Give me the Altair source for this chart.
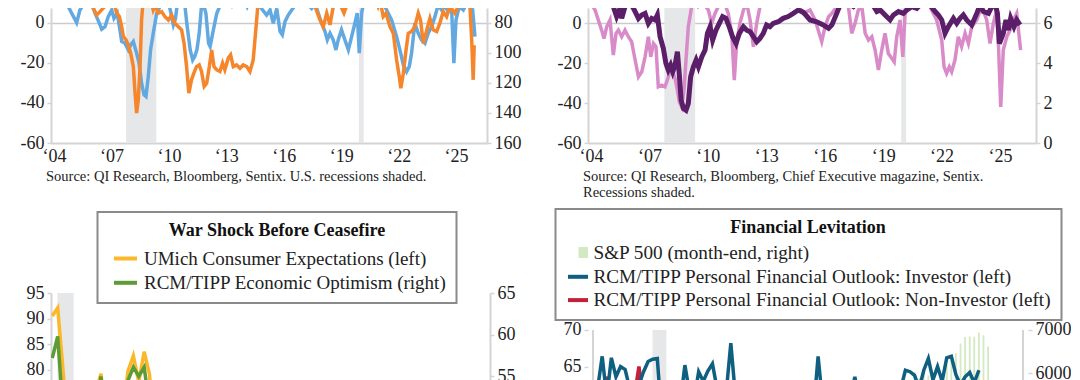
import altair as alt
import pandas as pd

FONT = "Liberation Serif"
AX = "#d4d4d4"
SHADE = "#e6e7e9"
TXT = "#222222"

# ---------------- data ----------------
recession_start = [2007.92, 2020.08]
recession_end = [2009.50, 2020.33]
tick_years = [2004, 2007, 2010, 2013, 2016, 2019, 2022, 2025]

# top-left: blue (left axis) and orange (right axis, inverted)
tl_blue = [
    (2004.60, 14), (2004.82, 9.6), (2005.08, 4.7), (2005.34, 0.0), (2005.51, 6.3), (2005.78, 10.5), (2006.00, 13), (2006.30, 4.7), (2006.56, -1.1), (2006.65, -3.3),
    (2006.82, -2.0), (2006.99, 3.0), (2007.17, 6.3), (2007.29, 2.2), (2007.46, 4.7), (2007.60, -3.6), (2007.69, -9.4), (2007.86, -10.3), (2008.04, -13.6), (2008.16, -11.1),
    (2008.30, -9.4), (2008.47, -15.2), (2008.60, -20.2), (2008.73, -30.2), (2008.86, -36.0), (2008.96, -36.8), (2009.08, -26.9), (2009.20, -13.6), (2009.34, -5.3), (2009.52, 4.7),
    (2009.69, 8.0), (2009.87, 13), (2010.10, 12), (2010.30, 3), (2010.39, -1.1), (2010.50, 2), (2010.60, 9.6), (2010.80, 13), (2011.00, 8), (2011.10, -1.1),
    (2011.27, -13.6), (2011.40, -18.6), (2011.50, -17.0), (2011.62, -13.6), (2011.74, -5.3), (2011.85, 7.2), (2011.97, 8.8), (2012.09, 4.7), (2012.23, -10.3), (2012.31, -11.9),
    (2012.48, -3.6), (2012.66, 4.7), (2012.84, 8.8), (2013.10, 10.5), (2013.30, 12), (2013.45, 8.8), (2013.60, 12), (2013.80, 10.5), (2014.00, 13), (2014.24, 8.0),
    (2014.40, 12), (2014.74, 10), (2014.91, 8.0), (2015.26, 3.8), (2015.44, 6.3), (2015.61, -0.3), (2015.79, 7.1), (2015.96, -4.4), (2016.08, -6.1), (2016.22, 0.5),
    (2016.39, 3.8), (2016.57, 6.3), (2016.83, 9.6), (2017.00, 13), (2017.30, 12), (2017.44, 8.8), (2017.61, 7.1), (2017.79, 9.6), (2017.96, 4.7), (2018.13, -0.3),
    (2018.31, -4.4), (2018.43, -8.6), (2018.57, -5.3), (2018.74, -8.6), (2018.88, -13.6), (2019.00, -8.6), (2019.17, -3.6), (2019.35, -8.6), (2019.53, -13.6), (2019.70, -7.0),
    (2019.87, -0.3), (2019.99, 4.7), (2020.10, -15.2), (2020.22, 4.7), (2020.40, 13), (2020.80, 14), (2021.20, 12), (2021.53, 6.3), (2021.79, 1.3), (2022.05, -7.0),
    (2022.26, -15.2), (2022.40, -21.1), (2022.57, -24.4), (2022.71, -21.9), (2022.83, -15.2), (2023.00, -0.3), (2023.18, -5.3), (2023.35, -8.6), (2023.53, -10.3), (2023.70, -5.3),
    (2023.88, -2.0), (2024.05, 3.0), (2024.22, 8.8), (2024.40, 6.3), (2024.57, 8.0), (2024.75, 5.5), (2024.92, 7.1), (2025.04, -20.2), (2025.15, 1.3), (2025.32, 8.0),
    (2025.53, 6.3), (2025.70, 9.6), (2025.88, 12), (2026.02, 6.3), (2026.14, -7.0),
]
tl_orange = [
    (2004.80, 64), (2005.30, 66.0), (2005.60, 66.0), (2005.90, 62), (2006.21, 70.5), (2006.39, 74.9), (2006.56, 72.7), (2006.75, 70.0), (2006.99, 67.2), (2007.15, 66.5),
    (2007.34, 69.3), (2007.43, 73.7), (2007.57, 76.0), (2007.69, 82.7), (2007.78, 89.3), (2007.92, 91.5), (2008.04, 94.8), (2008.16, 100.3), (2008.30, 109.2), (2008.39, 126.8),
    (2008.47, 140.1), (2008.56, 131.2), (2008.65, 109.2), (2008.73, 78.3), (2008.82, 64), (2009.00, 60), (2009.20, 64), (2009.34, 71.6), (2009.45, 68.3), (2009.60, 73.7),
    (2009.78, 72.7), (2009.95, 76.0), (2010.13, 78.3), (2010.30, 74.9), (2010.47, 80.4), (2010.65, 82.7), (2010.82, 84.8), (2010.95, 93.7), (2011.08, 109.2), (2011.20, 126.8),
    (2011.34, 118.0), (2011.46, 113.6), (2011.60, 109.2), (2011.74, 108.1), (2011.86, 112.5), (2012.00, 122.4), (2012.13, 120.3), (2012.27, 109.2), (2012.39, 98.1), (2012.51, 109.2),
    (2012.65, 111.3), (2012.82, 112.5), (2012.96, 106.9), (2013.08, 111.3), (2013.26, 103.6), (2013.38, 101.5), (2013.52, 109.2), (2013.69, 108.1), (2013.87, 110.3), (2014.04, 108.1),
    (2014.22, 109.2), (2014.39, 112.5), (2014.56, 104.8), (2014.65, 91.5), (2014.74, 78.3), (2014.83, 64), (2015.20, 58), (2016.00, 60), (2016.80, 62), (2017.30, 67.2),
    (2017.50, 64), (2017.79, 69.3), (2018.05, 78.3), (2018.22, 82.7), (2018.40, 73.7), (2018.57, 81.5), (2018.74, 69.3), (2018.90, 64), (2019.10, 68), (2019.30, 73.7),
    (2019.45, 68.3), (2019.60, 64), (2019.80, 66.5), (2020.00, 63), (2020.30, 60), (2020.80, 58), (2021.09, 69.3), (2021.20, 66), (2021.35, 76.0), (2021.50, 73.7),
    (2021.70, 82.7), (2021.88, 87.1), (2022.05, 104.8), (2022.19, 115.9), (2022.27, 123.6), (2022.40, 113.6), (2022.52, 100.3), (2022.66, 87.1), (2022.83, 85.9), (2023.00, 82.7),
    (2023.18, 73.7), (2023.30, 78.3), (2023.44, 93.7), (2023.58, 87.1), (2023.79, 77.1), (2023.96, 84.8), (2024.14, 85.9), (2024.31, 80.4), (2024.48, 72.7), (2024.66, 76.0),
    (2024.83, 69.3), (2025.09, 73.7), (2025.27, 69.3), (2025.53, 66.0), (2025.70, 63), (2025.88, 69.3), (2025.97, 91.5), (2026.05, 118.0), (2026.10, 95.0),
]

# top-right: pink (left axis) and purple (right axis)
tr_pink = [
    (2004.00, 12), (2004.10, 10.9), (2004.36, 6.7), (2004.53, 1.7), (2004.70, -3.4), (2004.82, -7.6), (2004.96, -1.7), (2005.13, 1.7), (2005.30, -15.9), (2005.44, -5.0),
    (2005.56, -3.4), (2005.73, -6.7), (2005.90, -3.4), (2006.07, -6.7), (2006.24, -9.2), (2006.42, -18.4), (2006.59, -26.8), (2006.76, -24.3), (2006.93, -16.8), (2007.10, -6.7),
    (2007.22, -16.8), (2007.36, -10.1), (2007.49, -11.7), (2007.61, -31.8), (2007.78, -31.0), (2007.95, -31.8), (2008.07, -28.5), (2008.21, -24.3), (2008.35, -24.3), (2008.47, -27.6),
    (2008.59, -33.5), (2008.69, -39.4), (2008.81, -41.9), (2008.93, -33.5), (2009.03, -18.4), (2009.15, -1.7), (2009.32, 8.4), (2009.50, 13), (2009.67, 8.4), (2009.92, 10.1),
    (2010.18, 6.7), (2010.35, 0.0), (2010.52, 5.0), (2010.69, 8.4), (2010.90, 13), (2011.20, 5.0), (2011.38, -5.0), (2011.51, -28.5), (2011.63, -10.1), (2011.80, 0.0),
    (2011.98, 6.7), (2012.15, 10.1), (2012.32, 1.7), (2012.49, -11.7), (2012.66, 0.0), (2012.83, 8.4), (2013.17, 13), (2013.60, 12), (2014.00, 13), (2014.37, 8.4),
    (2014.72, 10.1), (2015.06, 5.0), (2015.40, 6.7), (2015.66, 1.7), (2016.00, -9.2), (2016.17, -1.7), (2016.35, 3.3), (2016.52, 5.0), (2016.77, 8.4), (2017.12, 13),
    (2017.37, 8.4), (2017.54, -5.0), (2017.71, 0.0), (2017.88, 6.7), (2018.06, 8.4), (2018.23, -5.0), (2018.40, -8.4), (2018.57, -6.7), (2018.74, -13.4), (2018.91, -23.4),
    (2019.08, -13.4), (2019.25, -5.0), (2019.42, -15.1), (2019.60, -17.6), (2019.72, -19.3), (2019.85, -6.7), (2020.02, 1.7), (2020.16, -16.8), (2020.28, 5.0), (2020.45, 13),
    (2021.00, 14), (2021.56, 8.4), (2021.90, 1.7), (2022.16, -8.4), (2022.28, -21.8), (2022.41, -25.1), (2022.55, -21.8), (2022.67, -24.3), (2022.84, -18.4), (2023.01, -6.7),
    (2023.18, -11.7), (2023.36, -5.0), (2023.53, -10.1), (2023.70, -1.7), (2023.96, 1.7), (2024.21, 8.4), (2024.47, 1.7), (2024.64, -10.1), (2024.81, 0.0), (2024.98, 6.7),
    (2025.07, -10.1), (2025.19, -41.9), (2025.32, -13.4), (2025.50, -6.7), (2025.67, -3.4), (2025.84, 1.7), (2026.01, 5.0), (2026.21, -13.4),
]
tr_purple = [
    (2004.00, 7.2), (2004.10, 7.17), (2004.36, 7.01), (2004.62, 7.17), (2004.96, 7.09), (2005.30, 6.84), (2005.47, 6.34), (2005.64, 6.75), (2005.73, 6.25), (2005.90, 6.84),
    (2006.07, 7.09), (2006.24, 6.92), (2006.42, 6.59), (2006.59, 6.25), (2006.76, 6.42), (2006.93, 6.50), (2007.10, 6.00), (2007.27, 6.25), (2007.44, 6.17), (2007.56, 6.42),
    (2007.70, 5.33), (2007.87, 4.74), (2008.00, 3.99), (2008.12, 3.66), (2008.24, 3.90), (2008.35, 3.57), (2008.47, 3.90), (2008.59, 4.58), (2008.69, 3.41), (2008.78, 2.15),
    (2008.90, 1.73), (2009.03, 1.64), (2009.15, 1.98), (2009.27, 3.32), (2009.41, 3.82), (2009.55, 4.16), (2009.67, 3.82), (2009.84, 4.32), (2010.01, 4.66), (2010.13, 5.50),
    (2010.27, 5.83), (2010.40, 5.16), (2010.57, 5.66), (2010.74, 6.00), (2010.91, 6.34), (2011.08, 6.25), (2011.25, 5.83), (2011.42, 5.33), (2011.60, 4.99), (2011.77, 5.50),
    (2011.98, 5.83), (2012.15, 5.66), (2012.32, 5.58), (2012.49, 5.33), (2012.66, 5.08), (2012.83, 5.25), (2013.00, 5.50), (2013.17, 5.92), (2013.34, 5.83), (2013.51, 6.00),
    (2013.77, 6.08), (2014.02, 6.25), (2014.28, 6.34), (2014.54, 6.50), (2014.80, 6.67), (2015.06, 6.55), (2015.40, 6.17), (2015.74, 6.08), (2016.08, 5.92), (2016.35, 5.75),
    (2016.52, 5.92), (2016.77, 6.50), (2016.94, 6.92), (2017.12, 7.09), (2017.37, 7.01), (2017.63, 6.84), (2017.80, 7.01), (2018.06, 7.17), (2018.32, 6.92), (2018.57, 7.01),
    (2018.83, 6.59), (2019.00, 6.67), (2019.25, 6.42), (2019.51, 6.17), (2019.68, 6.42), (2019.94, 6.59), (2020.19, 6.50), (2020.37, 6.67), (2020.62, 6.84), (2020.88, 6.75),
    (2021.13, 7.01), (2021.30, 7.17), (2021.56, 6.92), (2021.82, 6.59), (2021.99, 6.42), (2022.16, 6.17), (2022.33, 5.50), (2022.50, 5.83), (2022.76, 6.25), (2022.93, 6.00),
    (2023.10, 6.25), (2023.27, 6.42), (2023.44, 6.17), (2023.70, 5.92), (2023.96, 6.50), (2024.13, 6.92), (2024.30, 6.59), (2024.56, 6.50), (2024.73, 6.84), (2024.90, 7.01),
    (2025.02, 6.50), (2025.12, 4.99), (2025.32, 5.50), (2025.46, 6.17), (2025.58, 5.66), (2025.70, 6.25), (2025.87, 5.83), (2026.01, 6.17), (2026.18, 5.92),
]

# bottom-left: monthly from Jan 2020
bl_start_year = 2020
bl_umich = [
    90.5, 92.1, 79.7, 65.9, 65.9, 72.3, 65.9, 68.5, 75.6, 79.2, 70.5, 74.6,
    74.0, 70.7, 79.7, 82.7, 77.6, 83.5, 79.0, 65.1, 68.1, 67.9, 62.8, 68.3,
    64.1, 59.4, 54.3, 62.5, 56.3, 47.5, 47.3, 55.2, 58.0, 56.2, 55.6, 59.9,
    65.3, 64.7, 59.2, 60.5, 55.4, 61.3, 68.3, 65.9, 66.0, 59.3, 56.8, 67.4,
    75.5, 75.2, 74.6, 72.2, 66.5, 67.2, 67.6, 72.1, 74.4, 74.1, 75.9, 73.3,
    69.3, 58.4, 52.6, 47.3, 47.9, 58.1, 57.7, 55.9, 51.7, 50.3, 51.0, 54.6,
    57.0, 56.6, 50.8,
]
bl_rcm = [
    57.2, 59.8, 50.5, 45.0, 47.5, 50.4, 46.0, 47.8, 48.0, 55.0, 48.5, 51.0,
    52.5, 51.5, 54.5, 56.1, 55.0, 56.1, 51.4, 50.8, 45.3, 47.6, 46.2, 48.6,
    43.0, 43.2, 45.3, 42.9, 41.7, 38.1, 39.1, 44.0, 43.2, 42.3, 43.9, 45.3,
    45.0, 46.3, 43.7, 44.9, 41.5, 43.0, 45.8, 43.2, 42.0, 41.8, 41.6, 44.8,
    45.3, 46.6, 43.7, 42.7, 42.2, 42.5, 43.8, 42.4, 45.7, 44.2, 47.4, 53.0,
    52.2, 50.6, 48.3, 43.3, 48.9, 44.9, 47.9, 47.8, 45.2, 47.3, 46.4, 48.2,
    47.5, 48.3, 43.0,
]

# bottom-right: monthly from Jan 2019
br_start_year = 2019
br_investor = [
    60.5, 62.0, 66.4, 60.8, 66.2, 63.6, 65.0, 64.6, 62.0, 61.0,
    62.5, 64.3, 65.7, 66.0, 66.1, 57.5, 56.0, 58.0, 59.0, 60.0,
    65.2, 61.5, 60.5, 64.3, 63.0, 64.4, 65.4, 62.0, 61.0, 61.5,
    68.2, 61.0, 59.5, 58.0, 57.5, 56.0, 55.0, 54.5, 55.5, 53.0,
    52.0, 54.0, 55.0, 56.0, 55.5, 57.0, 58.0, 57.5, 59.0, 66.4,
    60.0, 58.5, 59.0, 60.5, 59.5, 61.0, 60.5, 63.6, 60.0, 59.0,
    58.0, 59.5, 60.5, 58.5, 59.0, 60.0, 61.5, 62.0, 64.5, 64.3,
    63.8, 62.0, 64.5, 66.1, 63.2, 65.0, 63.0, 66.2, 66.4, 63.9,
    62.5, 63.6, 64.2, 62.8, 64.5,
]
br_noninvestor = [
    58.0, 60.0, 61.5, 63.6, 60.5, 59.0, 60.0, 58.5, 59.0, 61.0,
    65.0, 60.0, 59.5, 60.0, 58.0, 52.0, 50.5, 53.0, 54.0, 55.5,
    56.0, 54.5, 53.0, 55.0, 56.5, 57.0, 58.0, 56.5, 55.0, 57.5,
    55.0, 53.0, 51.0, 50.0, 49.0, 48.5, 47.0, 46.5, 48.0, 47.5,
    49.0, 50.5, 51.0, 50.0, 52.0, 53.5, 52.5, 54.0, 53.0, 55.0,
    54.0, 53.5, 55.5, 54.5, 53.0, 54.5, 55.0, 54.0, 56.0, 55.5,
    54.5, 56.0, 57.0, 56.5, 58.0, 57.5, 56.0, 55.0, 57.0, 58.5,
    59.0, 57.5, 56.5, 58.0, 57.0, 56.0, 55.5, 57.0, 56.5, 55.0,
    56.0, 57.5, 56.5, 55.5, 56.0,
]
br_sp500 = [
    2704, 2784, 2834, 2946, 2752, 2942, 2980, 2926, 2977, 3038, 3141, 3231,
    3226, 2954, 2585, 2912, 3044, 3100, 3271, 3500, 3363, 3270, 3622, 3756,
    3714, 3811, 3973, 4181, 4204, 4298, 4395, 4523, 4308, 4605, 4567, 4766,
    4516, 4374, 4530, 4132, 4132, 3785, 4130, 3955, 3586, 3872, 4080, 3840,
    4077, 3970, 4109, 4169, 4180, 4450, 4589, 4508, 4288, 4194, 4568, 4770,
    4846, 5096, 5254, 5036, 5278, 5460, 5522, 5648, 5762, 5705, 6032, 5882,
    6041, 5955, 5612, 5569, 5912, 6205, 6339, 6460, 6688, 6840, 6849, 6845,
    6939, 6879, 6620,
]
# bottom-right axis frame (data units): x extent and top of the left axis
br_x_extent = [2019.0, 2026.8]
br_left_axis_top = 70
br_left_floor = 61.8

UMICH = "UMich Consumer Expectations (left)"
RCM = "RCM/TIPP Economic Optimism (right)"
SP = "S&P 500 (month-end, right)"
INV = "RCM/TIPP Personal Financial Outlook: Investor (left)"
NONINV = "RCM/TIPP Personal Financial Outlook: Non-Investor (left)"

BLUE_TL, ORANGE_TL = "#63a9e1", "#f5862b"
PINK_TR, PURPLE_TR = "#d88bc8", "#5b1e68"
YELLOW_BL, GREEN_BL = "#fbb829", "#5c9b35"
GREEN_BAR, TEAL_BR, RED_BR = "#d3e9c2", "#0f5f80", "#c3203a"
# legend glyph for the S&P entry: a small solid block drawn with three stroked rows
SQUARE_GLYPH = "M0.05,-0.35H1M0.05,0H1M0.05,0.35H1"

# ---------------- frames ----------------
rec = pd.DataFrame({"start": recession_start, "end": recession_end})
df_tl_blue = pd.DataFrame(tl_blue, columns=["year", "v"])
df_tl_orange = pd.DataFrame(tl_orange, columns=["year", "v"])
df_tr_pink = pd.DataFrame(tr_pink, columns=["year", "v"])
df_tr_purple = pd.DataFrame(tr_purple, columns=["year", "v"])


def monthly(values, start, name):
    return pd.DataFrame({"year": [start + i / 12 for i in range(len(values))],
                         "v": values, "series": name})


df_bl_u = monthly(bl_umich, bl_start_year, UMICH)
df_bl_r = monthly(bl_rcm, bl_start_year, RCM)
df_br_inv = monthly(br_investor, br_start_year, INV)
df_br_non = monthly(br_noninvestor, br_start_year, NONINV)
df_br_sp = monthly(br_sp500, br_start_year, SP)
df_br_all = pd.concat([df_br_sp, df_br_inv, df_br_non], ignore_index=True)
df_br_frame = pd.DataFrame({"x": br_x_extent, "top": [br_left_axis_top] * 2,
                            "floor": [br_left_floor] * 2})
rec_br = rec.assign(top=br_left_axis_top, floor=br_left_floor)


# ---------------- helpers ----------------
def yaxis(orient, values, grid=False, fmt=None, domain=True, hyphen=False):
    kw = dict(orient=orient, values=values, title=None, labelPadding=3,
              tickSize=4, domainColor=AX, tickColor=AX, domain=domain)
    if fmt:
        kw["format"] = fmt
    if hyphen:
        kw["labelExpr"] = "toString(datum.value)"
    if grid:
        kw.update(grid=True, gridColor="#cbcbcb", gridWidth=1.5,
                  gridOpacity={"condition": {"test": "datum.value === 0", "value": 1}, "value": 0})
    return alt.Axis(**kw)


xaxis_years = alt.Axis(values=tick_years, title=None, ticks=False, grid=False,
                       labelFlush=False, labelOverlap=False, labelPadding=4, labelOffset=3,
                       labelExpr="'\u2018' + substring(toString(datum.value), 2, 4)")


def source_title(text):
    return alt.TitleParams(text=text, orient="bottom", anchor="start", frame="group",
                           font=FONT, fontSize=14.5, fontWeight="normal", color=TXT,
                           offset=5, dx=-5, lineHeight=16)


def shade(xs, xa):
    return alt.Chart(rec).mark_rect(color=SHADE, clip=True).encode(
        x=alt.X("start:Q", scale=xs, axis=xa), x2="end:Q")


# ---------------- top-left ----------------
xs_tl = alt.Scale(domain=[2004.0, 2026.77], nice=False, zero=False)
tl = alt.layer(
    shade(xs_tl, xaxis_years),
    alt.Chart(df_tl_blue).mark_line(color=BLUE_TL, strokeWidth=3.5, clip=True).encode(
        x=alt.X("year:Q", scale=xs_tl, axis=xaxis_years),
        y=alt.Y("v:Q", scale=alt.Scale(domain=[-60, 7.3], nice=False, zero=False),
                axis=yaxis("left", [-60, -40, -20, 0], grid=True, hyphen=True))),
    alt.Chart(df_tl_orange).mark_line(color=ORANGE_TL, strokeWidth=3.5, clip=True).encode(
        x=alt.X("year:Q", scale=xs_tl, axis=xaxis_years),
        y=alt.Y("v:Q", scale=alt.Scale(domain=[70.27, 160], reverse=True, nice=False, zero=False),
                axis=yaxis("right", [80, 100, 120, 140, 160]))),
).resolve_scale(y="independent").properties(
    width=436, height=135,
    title=source_title("Source: QI Research, Bloomberg, Sentix. U.S. recessions shaded."))

# ---------------- top-right ----------------
xs_tr = alt.Scale(domain=[2004.0, 2027.0], nice=False, zero=False)
tr = alt.layer(
    shade(xs_tr, xaxis_years),
    alt.Chart(df_tr_pink).mark_line(color=PINK_TR, strokeWidth=3.5, clip=True).encode(
        x=alt.X("year:Q", scale=xs_tr, axis=xaxis_years),
        y=alt.Y("v:Q", scale=alt.Scale(domain=[-60, 7.7], nice=False, zero=False),
                axis=yaxis("left", [-60, -40, -20, 0], grid=True, hyphen=True))),
    alt.Chart(df_tr_purple).mark_line(color=PURPLE_TR, strokeWidth=5, clip=True).encode(
        x=alt.X("year:Q", scale=xs_tr, axis=xaxis_years),
        y=alt.Y("v:Q", scale=alt.Scale(domain=[0, 6.77], nice=False, zero=False),
                axis=yaxis("right", [0, 2, 4, 6]))),
).resolve_scale(y="independent").properties(
    width=448, height=135,
    title=source_title(["Source: QI Research, Bloomberg, Chief Executive magazine, Sentix.",
                        "Recessions shaded."]))

# ---------------- bottom-left ----------------
legend_common = dict(orient="none", direction="vertical", fillColor="white",
                     strokeColor="#8a8a8a", padding=9.5, titleFont=FONT, titleFontSize=18,
                     titleFontWeight="bold", titleColor="#111111", titleAnchor="middle",
                     titleAlign="center", titleLimit=1000, labelFont=FONT,
                     labelColor=TXT, labelLimit=1000, symbolStrokeWidth=4, symbolOpacity=1,
                     rowPadding=0.3)

legend_bl = alt.Legend(title="War Shock Before Ceasefire", legendX=46.5, legendY=-81,
                       symbolType="stroke", symbolSize=529, titlePadding=5.5,
                       labelFontSize=19, labelOffset=5, symbolOffset=5, **legend_common)
color_bl = alt.Color("series:N", scale=alt.Scale(domain=[UMICH, RCM], range=[YELLOW_BL, GREEN_BL]),
                     legend=legend_bl)
xs_bl = alt.Scale(domain=[2019.98, 2026.75], nice=False, zero=False)
bl = alt.layer(
    shade(xs_bl, None),
    alt.Chart(df_bl_u).mark_line(strokeWidth=3.5, clip=True).encode(
        x=alt.X("year:Q", scale=xs_bl, axis=None),
        y=alt.Y("v:Q", scale=alt.Scale(domain=[76.0, 95], nice=False, zero=False),
                axis=yaxis("left", [80, 85, 90, 95])),
        color=color_bl),
    alt.Chart(df_bl_r).mark_line(strokeWidth=3.5, clip=True).encode(
        x=alt.X("year:Q", scale=xs_bl, axis=None),
        y=alt.Y("v:Q", scale=alt.Scale(domain=[53.37, 65], nice=False, zero=False),
                axis=yaxis("right", [55, 60, 65])),
        color=color_bl),
).resolve_scale(y="independent").properties(width=439, height=97)

# ---------------- bottom-right ----------------
legend_br = alt.Legend(title="Financial Levitation", legendX=-32.5, legendY=-84,
                       symbolSize=400, titlePadding=4, labelFontSize=19.2, labelOffset=3.5,
                       symbolOffset=1, **legend_common)
color_br = alt.Color("series:N",
                     scale=alt.Scale(domain=[SP, INV, NONINV], range=[GREEN_BAR, TEAL_BR, RED_BR]),
                     legend=legend_br)
shape_br = alt.Shape("series:N",
                     scale=alt.Scale(domain=[SP, INV, NONINV], range=[SQUARE_GLYPH, "stroke", "stroke"]),
                     legend=legend_br)
xs_br = alt.Scale(domain=br_x_extent, nice=False, zero=False)
ys_br_left = alt.Scale(domain=[61.8, 75.05], nice=False, zero=False)
left_axis_br = yaxis("left", [65, 70], domain=False)
inner_br = alt.layer(
    # recession shading, limited to the axis frame
    alt.Chart(rec_br).mark_rect(color=SHADE, clip=True).encode(
        x=alt.X("start:Q", scale=xs_br, axis=None), x2="end:Q",
        y=alt.Y("top:Q", scale=ys_br_left, axis=left_axis_br), y2="floor:Q"),
    # left and right axis lines
    alt.Chart(df_br_frame).mark_rule(color=AX, strokeWidth=2).encode(
        x=alt.X("x:Q", scale=xs_br, axis=None),
        y=alt.Y("top:Q", scale=ys_br_left, axis=left_axis_br), y2="floor:Q"),
    alt.Chart(df_br_non).mark_line(strokeWidth=3.5, clip=True).encode(
        x=alt.X("year:Q", scale=xs_br, axis=None),
        y=alt.Y("v:Q", scale=ys_br_left, axis=left_axis_br),
        color=color_br),
    alt.Chart(df_br_inv).mark_line(strokeWidth=3.5, clip=True).encode(
        x=alt.X("year:Q", scale=xs_br, axis=None),
        y=alt.Y("v:Q", scale=ys_br_left, axis=left_axis_br),
        color=color_br),
    # invisible points only carry the legend glyph shapes
    alt.Chart(df_br_all).mark_point(opacity=0, filled=False, clip=True).encode(
        x=alt.X("year:Q", scale=xs_br, axis=None),
        y=alt.Y("v:Q", scale=ys_br_left, axis=left_axis_br),
        color=color_br, shape=shape_br),
)
br = alt.layer(
    alt.Chart(df_br_sp).mark_bar(size=1.8, clip=True, color=GREEN_BAR).encode(
        x=alt.X("year:Q", scale=xs_br, axis=None),
        y=alt.Y("v:Q", scale=alt.Scale(domain=[5614, 7854], nice=False, zero=False),
                axis=yaxis("right", [6000, 7000], fmt="d", domain=False))),
    inner_br,
).resolve_scale(y="independent").properties(width=440, height=97)

# ---------------- assemble ----------------
chart = alt.concat(
    tl, tr, bl, br, columns=2, spacing={"row": 150, "column": 98}, bounds="flush"
).resolve_scale(
    color="independent", shape="independent"
).properties(
    padding={"left": 12, "top": 0, "right": 0, "bottom": 0},
    background="white",
).configure_view(stroke=None).configure_axis(
    labelFont=FONT, labelFontSize=18, labelColor=TXT, domainColor=AX, domainWidth=2,
    tickColor=AX, tickWidth=1.5, grid=False,
).configure_legend(strokeWidth=2)

chart.save("out.html", embed_options={"renderer": "svg", "actions": False})
